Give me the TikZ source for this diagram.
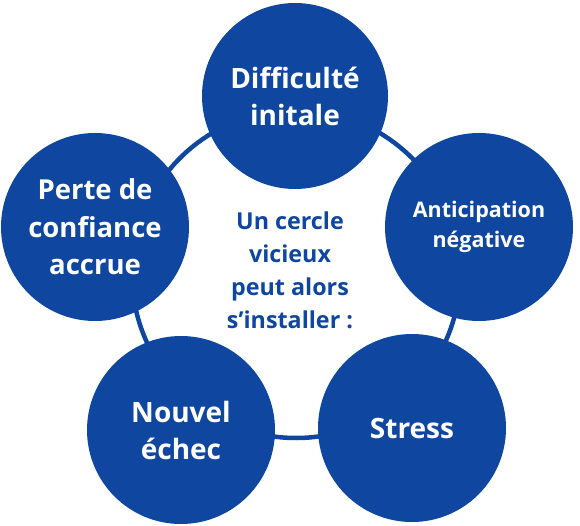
\documentclass[tikz,border=0pt]{standalone}
\usepackage{fontspec}
\setmainfont{Open Sans}
\definecolor{cblue}{HTML}{0F47A0}
\begin{document}
\begin{tikzpicture}[x=1pt,y=-1pt,
  bubble/.style={circle, fill=cblue, draw=none, minimum size=#1, inner sep=0pt, text=white, align=center},
  bubble/.default=188pt,
  ring/.style={draw=cblue, line width=4.5pt}]
\useasboundingbox (0,0) rectangle (580,526);
\coordinate (rc) at (296,274);
\draw[ring] (rc) circle[radius=164];
\node[bubble=186pt, font=\bfseries\fontsize{28}{37}\selectfont] (n1) at (295,96) {Difficulté\\initale};
\node[bubble, font=\bfseries\fontsize{21.5}{30}\selectfont] (n2) at (479,227) {Anticipation\\négative};
\node[bubble, font=\bfseries\fontsize{28}{37}\selectfont] (n3) at (412,428) {Stress};
\node[bubble, font=\bfseries\fontsize{28}{37}\selectfont] (n4) at (181,430) {Nouvel\\échec};
\node[bubble, font=\bfseries\fontsize{27.5}{37.5}\selectfont] (n5) at (95,227) {Perte de\\confiance\\accrue};
\node[align=center, text=cblue, font=\bfseries\fontsize{23.3}{33}\selectfont] (c) at (290,270) {Un cercle\\vicieux\\peut alors\\s’installer :};
\end{tikzpicture}
\end{document}
